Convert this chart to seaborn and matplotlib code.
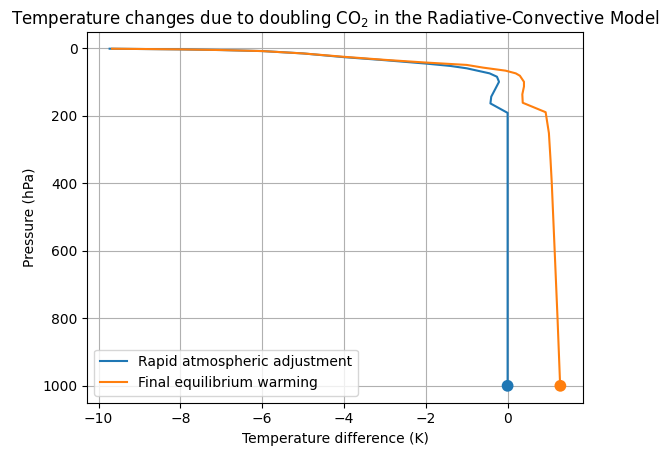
import numpy as np
import pandas as pd
import matplotlib
matplotlib.use("Agg")
import matplotlib.pyplot as plt
import seaborn as sns

# pressure levels (hPa) and temperature differences (K)
p_rapid = [2, 4, 6, 9, 16, 27, 36, 46, 53, 60, 75, 85, 100, 121, 144, 164, 192, 400, 700, 985]
dT_rapid = [-9.73, -8.0, -7.0, -6.0, -5.0, -4.0, -3.0, -2.0, -1.4, -1.0, -0.44, -0.26, -0.21, -0.3,
            -0.4, -0.42, 0.0, 0.0, 0.0, 0.0]

p_final = [2, 4, 6, 9, 16, 26, 35, 43, 50, 58, 67, 75, 82, 100, 114, 137, 162, 190,
           252, 332, 400, 598, 798, 985]
dT_final = [-9.67, -8.0, -7.0, -6.0, -5.0, -4.0, -3.0, -2.0, -1.0, -0.6, -0.05, 0.2, 0.3, 0.4, 0.4,
            0.36, 0.37, 0.93, 1.01, 1.05, 1.08, 1.15, 1.22, 1.28]

# surface temperature change
ps = 1000
dTs_rapid = 0.0
dTs_final = 1.29

labels = ["Rapid atmospheric adjustment", "Final equilibrium warming"]
colors = ["C0", "C1"]

fig, ax = plt.subplots(figsize=(6.7, 4.55), dpi=100)

sns.lineplot(x=dT_rapid, y=p_rapid, sort=False, estimator=None,
             color=colors[0], label=labels[0], ax=ax)
sns.lineplot(x=dT_final, y=p_final, sort=False, estimator=None,
             color=colors[1], label=labels[1], ax=ax)

# surface points
sns.scatterplot(x=[dTs_rapid, dTs_final], y=[ps, ps], hue=labels, palette=colors,
                s=72, linewidth=0, legend=False, ax=ax, zorder=3)

ax.invert_yaxis()
ax.grid(True)
ax.set_xlabel("Temperature difference (K)")
ax.set_ylabel("Pressure (hPa)")
ax.set_title("Temperature changes due to doubling CO$_2$ in the Radiative-Convective Model")
ax.legend(loc="lower left")

fig.subplots_adjust(left=0.13, right=0.87, top=0.93, bottom=0.115)
fig.savefig("out.png")
